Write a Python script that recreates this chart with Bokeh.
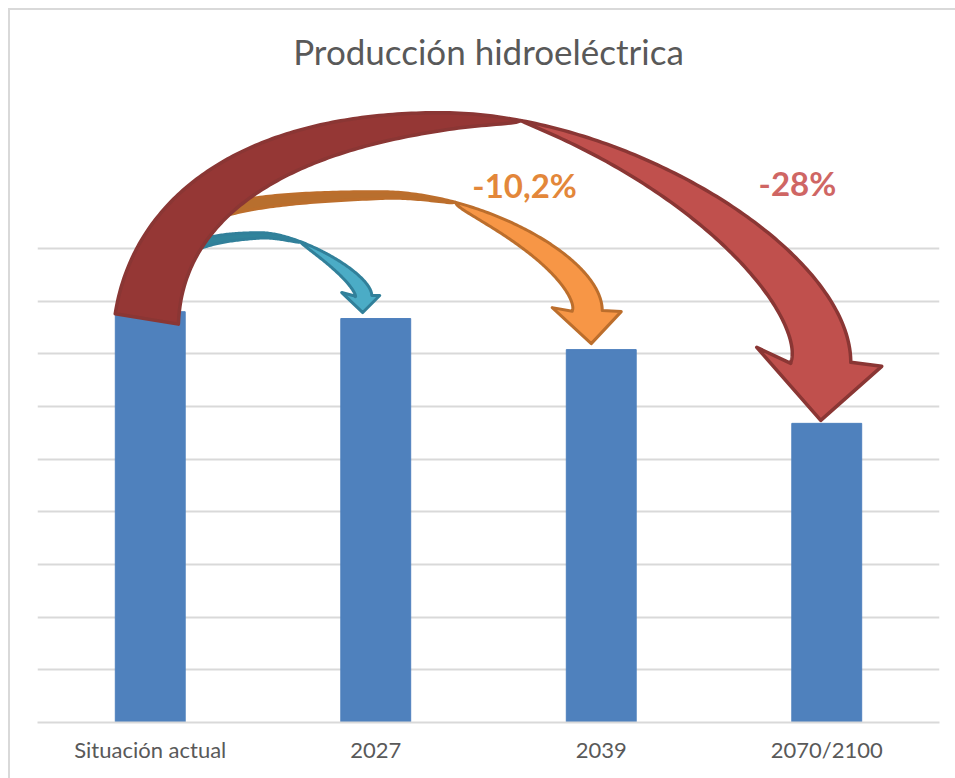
import numpy as np
from bokeh.plotting import figure
from bokeh.models import FixedTicker
from bokeh.embed import file_html
from bokeh.resources import INLINE
from bokeh.core.properties import value

# ---------------- data ----------------
TITLE = "Producción hidroeléctrica"
categories = ["Situación actual", "2027", "2039", "2070/2100"]
production = [7.80, 7.67, 7.08, 5.68]          # relative units (gridline = 1)
grid_levels = [1, 2, 3, 4, 5, 6, 7, 8, 9]
change_labels = ["-10,2%", "-28%"]
change_targets = [2, 3]

FONT = "Lato"
BAR_COLOR = "#4F81BD"
GRID_COLOR = "#D9D9D9"
TEXT_COLOR = "#595959"

W, H = 947, 770
MBL, MBR, MBT, MBB = 29, 16, 82, 56
X_LO, X_HI = -0.5, len(categories) - 0.5
Y_LO, Y_HI = 0, 12

xs = list(range(len(categories)))

p = figure(width=W, height=H, x_range=(X_LO, X_HI), y_range=(Y_LO, Y_HI),
           output_backend="svg", toolbar_location=None, y_axis_location=None,
           min_border_left=MBL, min_border_right=MBR, min_border_top=MBT, min_border_bottom=MBB,
           title=TITLE)

p.outline_line_color = None
p.background_fill_color = None
p.border_fill_color = None
p.styles = {"margin-left": "8px", "margin-top": "8px",
            "box-shadow": "inset 2px 2px 0 0 #D9D9D9"}

p.title.text_font = FONT
p.title.text_font_size = "35px"
p.title.text_font_style = "normal"
p.title.text_color = TEXT_COLOR
p.title.align = "center"
p.title.standoff = 38

p.xaxis.ticker = FixedTicker(ticks=xs)
p.xaxis.major_label_overrides = {i: c for i, c in enumerate(categories)}
p.xaxis.axis_line_color = GRID_COLOR
p.xaxis.axis_line_width = 2
p.xaxis.major_tick_line_color = None
p.xaxis.minor_tick_line_color = None
p.xaxis.major_label_text_font = FONT
p.xaxis.major_label_text_font_size = "22px"
p.xaxis.major_label_text_color = TEXT_COLOR
p.xaxis.major_label_standoff = 7

p.xgrid.visible = False
p.ygrid.ticker = FixedTicker(ticks=grid_levels)
p.ygrid.grid_line_color = GRID_COLOR
p.ygrid.grid_line_width = 2

p.vbar(x=xs, top=production, width=0.31, color=BAR_COLOR)

# ---------------- curved arrows, anchored on the bars ----------------
XS = (W - MBL - MBR) / (X_HI - X_LO)     # screen px per x unit
YS = (H - MBT - MBB) / (Y_HI - Y_LO)     # screen px per y unit


def anchor(i):
    return np.array([xs[i] * XS, production[i] * YS])


def bez(P0, P1, P2, P3, n=120):
    t = np.linspace(0, 1, n)[:, None]
    return ((1 - t) ** 3) * P0 + 3 * ((1 - t) ** 2) * t * P1 + 3 * (1 - t) * (t ** 2) * P2 + (t ** 3) * P3


def normals(pts):
    d = np.gradient(pts, axis=0)
    d = d / np.linalg.norm(d, axis=1)[:, None]
    return np.column_stack([d[:, 1], -d[:, 0]])


def arclen(pts):
    seg = np.linalg.norm(np.diff(pts, axis=0), axis=1)
    s = np.concatenate([[0.0], np.cumsum(seg)])
    return s / s[-1]


def curved_arrow(src, dst, g, back, front, line, lw):
    S, D = anchor(src), anchor(dst)
    t0 = S + np.array(g["tail"], float)
    pk = S + np.array(g["peak"], float)
    ne = D + np.array(g["notch"], float)
    a = np.radians(g["lean"])
    k1, k2 = g["k"]
    P1 = t0 + k1 * (pk[1] - t0[1]) * np.array([np.sin(a), np.cos(a)])
    P2 = pk - np.array([k1 * (pk[0] - t0[0]), 0.0])
    rise = bez(t0, P1, P2, pk)
    Q1 = pk + np.array([k2 * (ne[0] - pk[0]), 0.0])
    Q2 = ne + np.array([0.0, k2 * (pk[1] - ne[1])])
    fall = bez(pk, Q1, Q2, ne)
    iq = int(g["split"] * (len(fall) - 1))
    back_outer = np.vstack([rise, fall[1:iq + 1]])
    front_outer = fall[iq:]
    # front band with head
    u = arclen(front_outer)
    wf = g["w_front"] * u ** g["p_front"]
    front_inner = front_outer + normals(front_outer) * wf[:, None]
    head = np.array([D + g["barb_out"], D + g["tip"], D + g["barb_in"]], float)
    fpoly = np.vstack([front_outer, head, front_inner[::-1]])
    p.patch(fpoly[:, 0] / XS, fpoly[:, 1] / YS, fill_color=front, line_color=line,
            line_width=lw, line_join="round")
    # back band
    u = arclen(back_outer)
    wb = g["w_back"] * (1 - u) ** g["p_back"]
    back_inner = back_outer + normals(back_outer) * wb[:, None]
    bpoly = np.vstack([back_outer, back_inner[::-1]])
    p.patch(bpoly[:, 0] / XS, bpoly[:, 1] / YS, fill_color=back, line_color=line,
            line_width=lw, line_join="round")


teal_geom = dict(tail=(10, 21), peak=(110, 79), notch=(-4, 23), lean=0, k=(0.7, 0.35),
                 split=0.3, w_back=11, p_back=0.5, w_front=17, p_front=0.7,
                 barb_out=(4, 23), tip=(-13, 6), barb_in=(-34, 26))
orange_geom = dict(tail=(0, 11), peak=(230, 120), notch=(1, 39), lean=0, k=(0.8, 0.45),
                   split=0.25, w_back=15, p_back=0.5, w_front=30, p_front=0.6,
                   barb_out=(20, 38), tip=(-10, 6), barb_in=(-49, 42))
red_geom = dict(tail=(-35, -2), peak=(290, 199), notch=(24, 61), lean=9, k=(0.6, 0.45),
                split=0.15, w_back=64, p_back=0.7, w_front=60, p_front=0.85,
                barb_out=(55, 57), tip=(-6, 3), barb_in=(-70, 76))

curved_arrow(0, 1, teal_geom, "#31849B", "#4BACC6", "#31809A", 3)
curved_arrow(0, 2, orange_geom, "#B86F2E", "#F79646", "#BC6E2C", 3)
curved_arrow(0, 3, red_geom, "#953735", "#C0504D", "#8A3634", 3.5)

# ---------------- change labels ----------------
label_dx = [-0.34, -0.13]
label_y = [10.2, 10.25]
p.text(x=[xs[t] + d for t, d in zip(change_targets, label_dx)], y=label_y, text=change_labels,
       text_color=["#E3873A", "#CF6664"], text_font=value(FONT), text_font_style="bold",
       text_font_size="33px", text_align="center", text_baseline="middle")

open("out.html", "w").write(file_html(p, INLINE))
